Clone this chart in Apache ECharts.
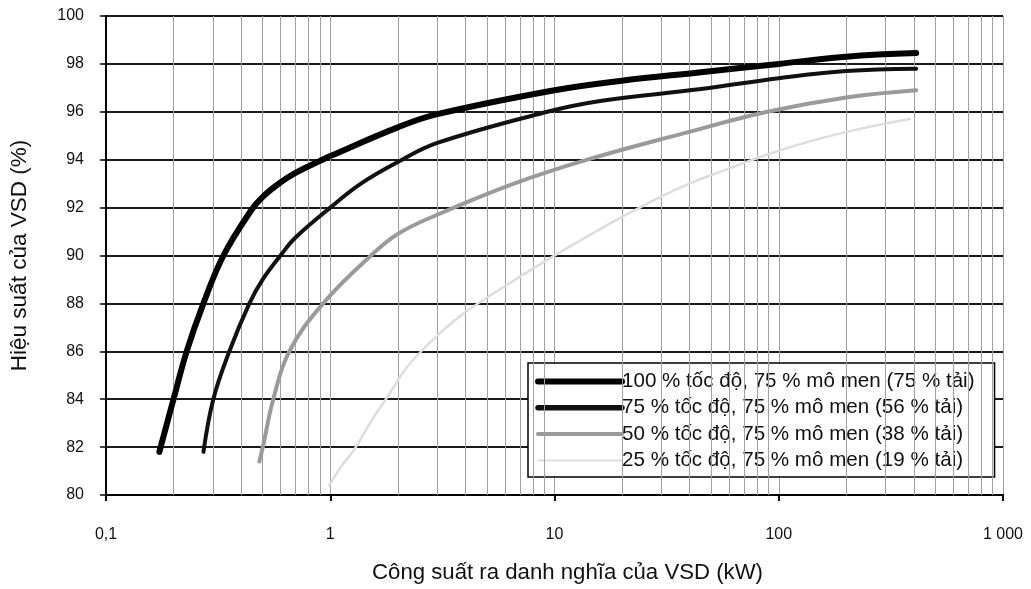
<!DOCTYPE html>
<html>
<head>
<meta charset="utf-8">
<script src="https://cdn.jsdelivr.net/npm/echarts@6/dist/echarts.min.js"></script>
<style>
  html, body { margin: 0; padding: 0; background: #ffffff; }
  #chart { width: 1031px; height: 589px; }
</style>
</head>
<body>
<div id="chart"></div>
<script>
// ---- Data ----
var seriesNames = [
  '100 % tốc độ, 75 % mô men (75 % tải)',
  '75 % tốc độ, 75 % mô men (56 % tải)',
  '50 % tốc độ, 75 % mô men (38 % tải)',
  '25 % tốc độ, 75 % mô men (19 % tải)'
];

// [power kW, efficiency %]
var speed100 = [
  [0.173, 81.8], [0.200, 84.0], [0.229, 86.0], [0.272, 88.0], [0.334, 90.0],
  [0.445, 91.9], [0.5, 92.45], [0.6, 93.05], [0.7, 93.45], [0.9, 93.95],
  [1.0, 94.15], [2.0, 95.35], [3.0, 95.9], [10, 96.9], [20, 97.3],
  [45, 97.65], [100, 98.0], [200, 98.3], [410, 98.45]
];
var speed75 = [
  [0.272, 81.8], [0.301, 84.0], [0.355, 86.0], [0.436, 88.0], [0.5, 89.0],
  [0.6, 90.0], [0.7, 90.75], [1.0, 92.0], [1.37, 93.0], [2.0, 93.9],
  [3.0, 94.7], [9.3, 96.0], [16, 96.45], [45, 96.95], [100, 97.4],
  [200, 97.7], [410, 97.8]
];
var speed50 = [
  [0.483, 81.4], [0.503, 82.1], [0.557, 84.0], [0.657, 86.0], [0.93, 88.0],
  [1.52, 90.0], [2.0, 90.9], [3.0, 91.7], [6.6, 93.0], [14, 94.0],
  [37.6, 95.1], [89, 96.0], [200, 96.6], [410, 96.9]
];
var speed25 = [
  [0.99, 80.4], [1.12, 81.2], [1.28, 81.9], [1.55, 83.2], [1.83, 84.2],
  [2.07, 85.0], [2.37, 85.7], [3.12, 86.8], [4.1, 87.7], [6.2, 88.8],
  [9.6, 89.9], [17, 91.25], [24, 92.0], [37.6, 92.9], [62.8, 93.7],
  [94.6, 94.3], [148, 94.85], [247, 95.35], [385, 95.7]
];

// axis ticks
var xTickValues = [0.1, 1, 10, 100, 1000];
var xTickLabels = ['0,1', '1', '10', '100', '1 000'];
var xMinorGrid = [
  0.2, 0.3, 0.4, 0.5, 0.6, 0.7, 0.8, 0.9,
  2, 3, 4, 5, 6, 7, 8, 9,
  20, 30, 40, 50, 60, 70, 80, 90,
  200, 300, 400, 500, 600, 700, 800, 900
];
var yMin = 80, yMax = 100, yStep = 2;

var xTitle = 'Công suất ra danh nghĩa của VSD (kW)';
var yTitle = 'Hiệu suất của VSD (%)';

// ---- Chart ----
var FONT = '"Liberation Sans", Arial, sans-serif';
var chart = echarts.init(document.getElementById('chart'), null, { renderer: 'canvas' });

function xLabel(v) {
  for (var i = 0; i < xTickValues.length; i++) {
    if (Math.abs(v - xTickValues[i]) / xTickValues[i] < 1e-6) return xTickLabels[i];
  }
  return '';
}

var lineStyles = [
  { color: '#000000', width: 6 },
  { color: '#111111', width: 4 },
  { color: '#9a9a9a', width: 4 },
  { color: '#dddddd', width: 2.5 }
];
var legendWidths = [6, 5.5, 4, 2];
var datasets = [speed100, speed75, speed50, speed25];

var series = [{
  name: '_grid',
  type: 'line',
  data: [],
  z: 1,
  silent: true,
  markLine: {
    silent: true,
    symbol: ['none', 'none'],
    animation: false,
    label: { show: false },
    lineStyle: { color: '#a0a0a0', width: 1, type: 'solid' },
    data: xMinorGrid.map(function (v) { return { xAxis: v }; })
  }
}];
var legendData = [];
for (var i = 0; i < datasets.length; i++) {
  series.push({
    name: seriesNames[i],
    type: 'line',
    data: datasets[i],
    symbol: 'none',
    showSymbol: false,
    smooth: 0.4,
    z: 10 - i,
    lineStyle: { color: lineStyles[i].color, width: lineStyles[i].width, cap: 'round', join: 'round' },
    itemStyle: { color: lineStyles[i].color }
  });
  legendData.push({
    name: seriesNames[i],
    itemStyle: { opacity: 0 },
    lineStyle: { color: lineStyles[i].color, width: legendWidths[i], opacity: 1 }
  });
}

chart.setOption({
  animation: false,
  backgroundColor: '#ffffff',
  textStyle: { fontFamily: FONT },
  grid: { left: 105, right: 28, top: 16, bottom: 92, containLabel: false },
  legend: {
    data: legendData,
    orient: 'vertical',
    left: 528,
    top: 363,
    padding: [8, 20, 6, 7],
    itemGap: 5.3,
    itemWidth: 84,
    itemHeight: 20,
    backgroundColor: '#ffffff',
    borderColor: '#000000',
    borderWidth: 1.5,
    borderRadius: 0,
    selectedMode: false,
    itemStyle: { opacity: 0 },
    textStyle: { fontFamily: FONT, fontSize: 20.6, color: '#111111', lineHeight: 20, padding: [0, 0, 0, -5] }
  },
  xAxis: {
    type: 'log',
    logBase: 10,
    min: 0.1,
    max: 1000,
    name: xTitle,
    nameLocation: 'middle',
    nameGap: 67,
    nameTextStyle: { fontFamily: FONT, fontSize: 22.2, color: '#111111', padding: [0, 0, 0, 26] },
    axisLine: { show: true, lineStyle: { color: '#000000', width: 2 } },
    axisTick: { show: true, inside: false, length: 6, lineStyle: { color: '#000000', width: 2 } },
    axisLabel: { formatter: xLabel, margin: 32, fontSize: 16, color: '#111111', fontFamily: FONT },
    splitLine: { show: true, lineStyle: { color: '#a0a0a0', width: 1 } },
    minorTick: { show: false },
    minorSplitLine: { show: false }
  },
  yAxis: {
    type: 'value',
    min: yMin,
    max: yMax,
    interval: yStep,
    name: yTitle,
    nameLocation: 'middle',
    nameGap: 75,
    nameRotate: 90,
    nameTextStyle: { fontFamily: FONT, fontSize: 22.5, color: '#111111' },
    axisLine: { show: true, lineStyle: { color: '#000000', width: 2 } },
    axisTick: { show: true, inside: false, length: 6, lineStyle: { color: '#000000', width: 1.5 } },
    axisLabel: { margin: 22, fontSize: 16, color: '#111111', fontFamily: FONT },
    splitLine: { show: true, lineStyle: { color: '#1a1a1a', width: 2 } }
  },
  series: series
});
</script>
</body>
</html>
